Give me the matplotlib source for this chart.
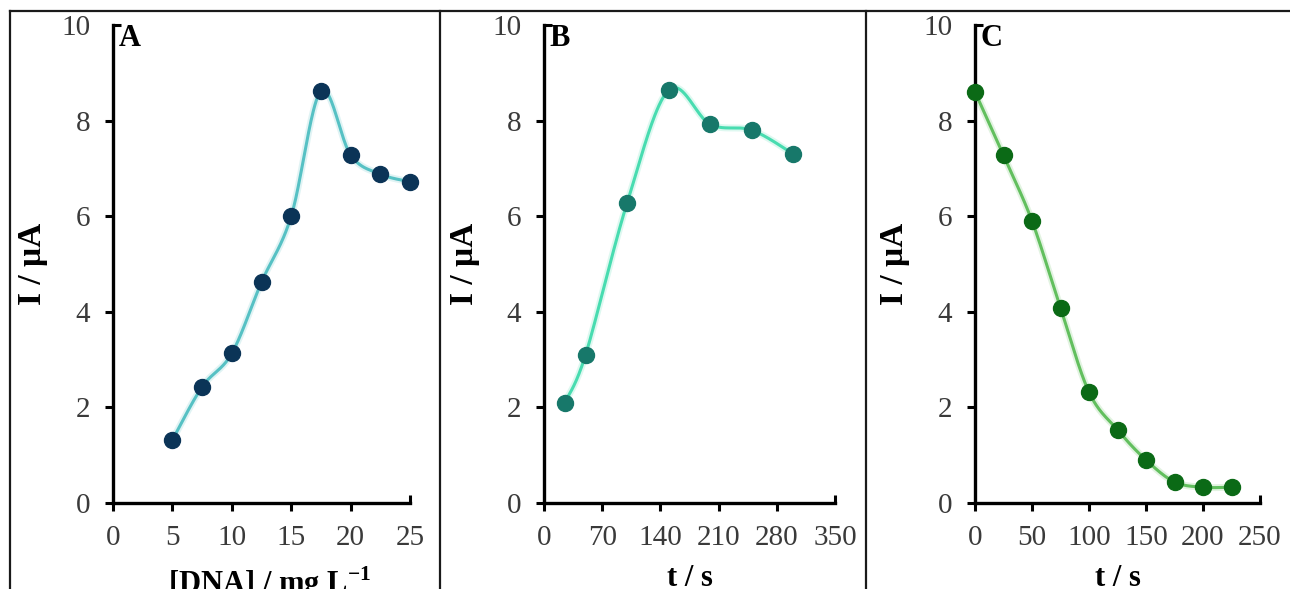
import numpy as np
import matplotlib
matplotlib.use("Agg")
import matplotlib.pyplot as plt
import matplotlib.lines as mlines

plt.rcParams['font.family'] = ['Liberation Serif', 'DejaVu Serif']
plt.rcParams['mathtext.fontset'] = 'custom'
plt.rcParams['mathtext.rm'] = 'Liberation Serif'
plt.rcParams['mathtext.bf'] = 'Liberation Serif:bold'

# Panel A: current vs DNA concentration
dna_conc = [5, 7.5, 10, 12.5, 15, 17.5, 20, 22.5, 25]
current_a = [1.32, 2.43, 3.13, 4.62, 6.0, 8.62, 7.28, 6.88, 6.72]

# Panel B: current vs accumulation time
time_b = [25, 50, 100, 150, 200, 250, 300]
current_b = [2.1, 3.1, 6.28, 8.64, 7.92, 7.8, 7.3]

# Panel C: current vs time
time_c = [0, 25, 50, 75, 100, 125, 150, 175, 200, 225]
current_c = [8.6, 7.27, 5.9, 4.08, 2.32, 1.53, 0.9, 0.44, 0.33, 0.33]

xticks_a = [0, 5, 10, 15, 20, 25]
xticks_b = [0, 70, 140, 210, 280, 350]
xticks_c = [0, 50, 100, 150, 200, 250]
yticks = [0, 2, 4, 6, 8, 10]

panels = [
    dict(x=dna_conc, y=current_a, xticks=xticks_a, letter='A',
         xlabel='[DNA] / mg L$^{\\mathbf{-1}}$', line='#56c1c4', marker='#0b3457',
         rect=[113 / 1290, 86 / 589, 297 / 1290, 478 / 589], ylx=-0.219, xlx=0.525),
    dict(x=time_b, y=current_b, xticks=xticks_b, letter='B',
         xlabel='t / s', line='#48dcb0', marker='#17786a',
         rect=[544 / 1290, 86 / 589, 291 / 1290, 478 / 589], ylx=-0.22, xlx=0.5),
    dict(x=time_c, y=current_c, xticks=xticks_c, letter='C',
         xlabel='t / s', line='#62bf5e', marker='#0b6a16',
         rect=[975 / 1290, 86 / 589, 285 / 1290, 478 / 589], ylx=-0.228, xlx=0.5),
]


def smooth_curve(x, y, sx, sy, n=40):
    """Bezier smoothing through the points (control offsets of 1/6 of neighbour chord)."""
    px = np.asarray(x, float) / sx
    py = np.asarray(y, float) / sy
    pts = np.column_stack([px, py])
    out = [pts[0]]
    t = np.linspace(0, 1, n)[1:, None]
    for i in range(len(pts) - 1):
        p0 = pts[i - 1] if i > 0 else pts[i]
        p1, p2 = pts[i], pts[i + 1]
        p3 = pts[i + 2] if i + 2 < len(pts) else pts[i + 1]
        c1 = p1 + (p2 - p0) / 6
        c2 = p2 - (p3 - p1) / 6
        seg = ((1 - t) ** 3) * p1 + 3 * ((1 - t) ** 2) * t * c1 + 3 * (1 - t) * t ** 2 * c2 + t ** 3 * p2
        out.extend(seg)
    out = np.array(out)
    return out[:, 0] * sx, out[:, 1] * sy


fig = plt.figure(figsize=(12.9, 5.89), dpi=100)
tick_color = '#3a3a3a'

for p in panels:
    ax = fig.add_axes(p['rect'])
    xmax = p['xticks'][-1]
    ax.set_xlim(0, xmax)
    ax.set_ylim(0, 10)
    # scale so smoothing follows screen proportions
    w_px = p['rect'][2] * 1290
    h_px = p['rect'][3] * 589
    cx, cy = smooth_curve(p['x'], p['y'], xmax / w_px, 10 / h_px)
    ax.plot(cx, cy, color=p['line'], lw=5.0, alpha=0.18, solid_capstyle='round', clip_on=False)
    ax.plot(cx, cy, color=p['line'], lw=2.2, solid_capstyle='round', clip_on=False)
    ax.plot(p['x'], p['y'], linestyle='none', marker='o', ms=11.5,
            mfc=p['marker'], mec=p['marker'], clip_on=False, zorder=5)

    for s in ['top', 'right']:
        ax.spines[s].set_visible(False)
    for s in ['left', 'bottom']:
        ax.spines[s].set_linewidth(2.4)
        ax.spines[s].set_color('black')
        ax.spines[s].set_capstyle('projecting')

    ax.set_xticks(p['xticks'])
    ax.set_yticks(yticks)
    ax.tick_params(direction='out', length=5.5, width=2.2, colors='black',
                   labelcolor=tick_color, labelsize=21)
    ax.tick_params(axis='x', pad=10)
    ax.tick_params(axis='y', pad=11)
    # end ticks of both axes point inward
    ax.xaxis.get_major_ticks()[-1].tick1line.set_marker(mlines.TICKUP)
    ax.yaxis.get_major_ticks()[-1].tick1line.set_marker(mlines.TICKRIGHT)

    ax.set_ylabel('I / μA', fontsize=24, fontweight='bold')
    ax.yaxis.set_label_coords(p['ylx'], 0.5)
    ax.set_xlabel(p['xlabel'], fontsize=22, fontweight='bold')
    ax.xaxis.set_label_coords(p['xlx'], -0.128)
    ax.text(0.02, 0.971, p['letter'], transform=ax.transAxes, fontsize=22,
            fontweight='bold', ha='left', va='center')

# outer frame and panel separators
frame_kw = dict(transform=fig.transFigure, color='#1a1a1a', lw=1.6)
fig.add_artist(mlines.Line2D([10 / 1290, 1.0], [1 - 11 / 589, 1 - 11 / 589], **frame_kw))
for xp in [10, 440, 866]:
    fig.add_artist(mlines.Line2D([xp / 1290, xp / 1290], [0, 1 - 11 / 589], **frame_kw))

fig.savefig('out.png', dpi=100)
